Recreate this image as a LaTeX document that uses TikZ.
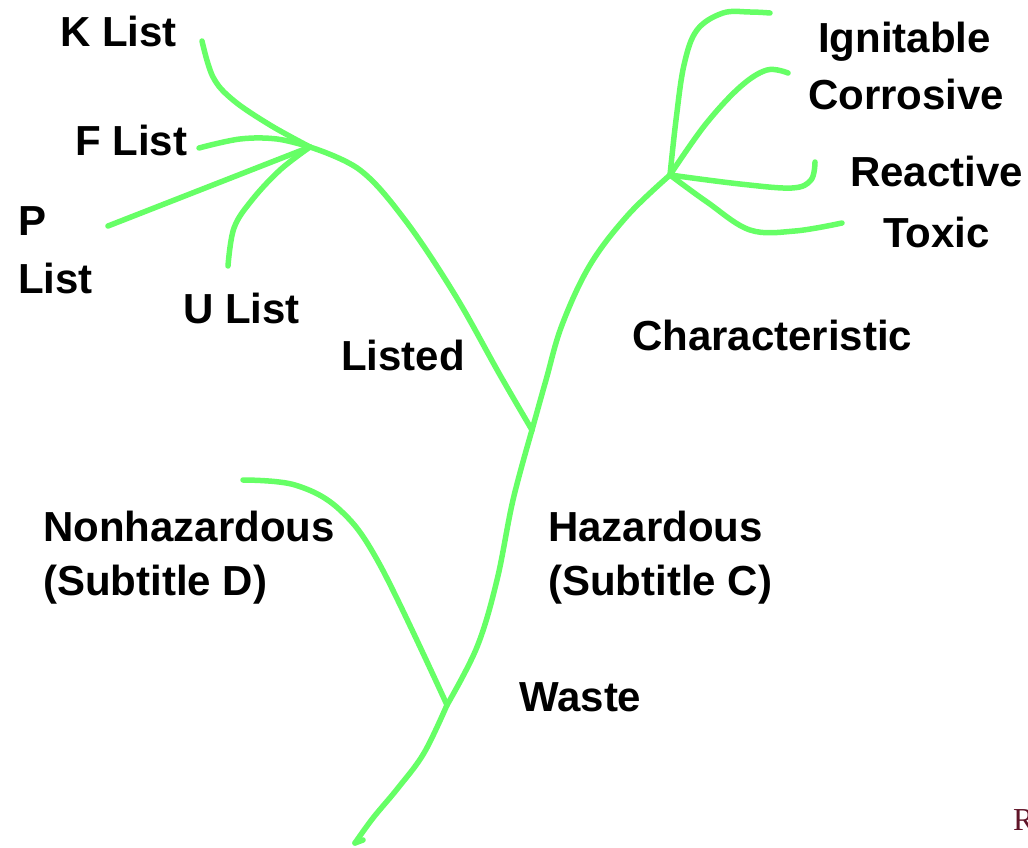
\documentclass[tikz,border=0pt]{standalone}
\usepackage{fontspec}
\setmainfont{Liberation Sans}
\newfontfamily\serifR{Liberation Serif}
\definecolor{branchgreen}{RGB}{102,255,102}
\definecolor{maroon}{RGB}{96,20,40}
\begin{document}
\begin{tikzpicture}[x=1pt,y=-1pt,
  branch/.style={draw=branchgreen,line width=5.5pt,line cap=round,line join=round},
  lbl/.style={anchor=base west,inner sep=0pt,font=\fontsize{42}{48}\selectfont\bfseries}]
\useasboundingbox (0,0) rectangle (1028,848);
% junctions and ends
\coordinate (root) at (355,843);
\coordinate (split) at (447,705);
\coordinate (haz) at (532,430);
\coordinate (lst) at (310,147);
\coordinate (chr) at (670,175);
\coordinate (nonend) at (243,480);
\coordinate (kend) at (202,41);
\coordinate (fend) at (199,148);
\coordinate (pend) at (108,226);
\coordinate (uend) at (228,266);
\coordinate (iend) at (770,13);
\coordinate (cend) at (788,73);
\coordinate (rend) at (815,162);
\coordinate (tend) at (842,223);
% trunk
\draw[branch] (363,840) -- (root);
\draw[branch] plot[smooth,tension=0.6] coordinates {(root) (373,818) (398,788) (424,753) (split)};
\draw[branch] plot[smooth,tension=0.6] coordinates {(split) (477,647) (497,580) (513,500) (haz)};
\draw[branch] plot[smooth,tension=0.6] coordinates {(haz) (546,380) (562,325) (590,265) (628,215) (chr)};
% nonhazardous
\draw[branch] plot[smooth,tension=0.6] coordinates {(split) (380,565) (340,510) (295,485) (nonend)};
% listed
\draw[branch] plot[smooth,tension=0.6] coordinates {(haz) (500,375) (455,295) (405,220) (360,170) (lst)};
\draw[branch] plot[smooth,tension=0.6] coordinates {(lst) (270,125) (233,100) (213,77) (kend)};
\draw[branch] plot[smooth,tension=0.6] coordinates {(lst) (277,139) (240,139) (fend)};
\draw[branch] (lst) -- (pend);
\draw[branch] plot[smooth,tension=0.6] coordinates {(lst) (280,170) (252,200) (234,228) (uend)};
% characteristic
\draw[branch] plot[smooth,tension=0.6] coordinates {(chr) (676,120) (684,65) (697,30) (723,13) (750,12) (iend)};
\draw[branch] plot[smooth,tension=0.6] coordinates {(chr) (705,125) (740,87) (767,70) (cend)};
\draw[branch] plot[smooth,tension=0.6] coordinates {(chr) (740,184) (792,188) (811,180) (rend)};
\draw[branch] plot[smooth,tension=0.6] coordinates {(chr) (707,202) (750,230) (795,231) (tend)};
% labels
\node[lbl] (tk) at (60,47) {K List};
\node[lbl] (tf) at (75,156) {F List};
\node[lbl] (tp) at (18,235) {P};
\node[lbl] (tp2) at (18,293) {List};
\node[lbl] (tu) at (183,323) {U List};
\node[lbl] (tl) at (341,370) {Listed};
\node[lbl] (ti) at (818,53) {Ignitable};
\node[lbl] (tc) at (808,110) {Corrosive};
\node[lbl] (tr) at (850,186) {Reactive};
\node[lbl] (tt) at (883,247) {Toxic};
\node[lbl] (tch) at (632,350) {Characteristic};
\node[lbl] (tn) at (43,541) {Nonhazardous};
\node[lbl] (tn2) at (43,595) {(Subtitle D)};
\node[lbl] (th) at (548,541) {Hazardous};
\node[lbl] (th2) at (548,595) {(Subtitle C)};
\node[lbl] (tw) at (519,711) {Waste};
\node[anchor=base west,inner sep=0pt,text=maroon,font=\serifR\fontsize{32}{36}\selectfont] (tR) at (1013,830) {R};
\end{tikzpicture}
\end{document}
